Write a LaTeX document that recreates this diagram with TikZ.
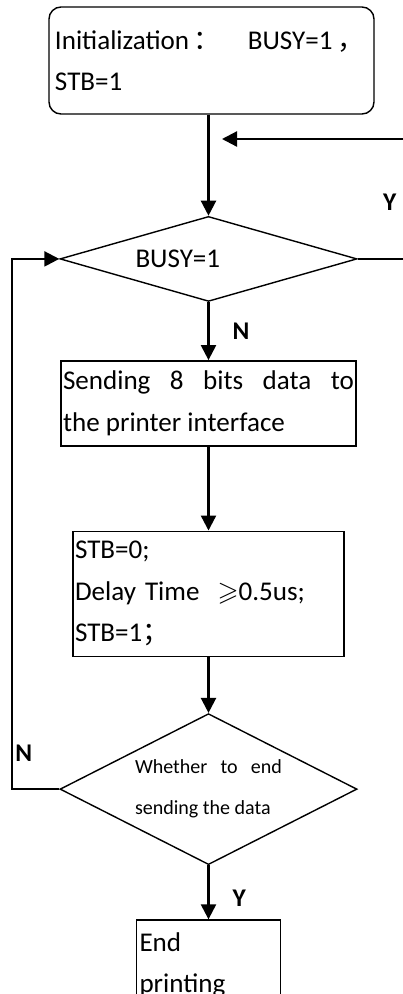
\documentclass[tikz,border=0pt]{standalone}
\usepackage{amsmath,amssymb}
\usepackage{fontspec}
\setmainfont{Carlito}
\newfontfamily\cjk{Noto Sans CJK SC}
\usepackage{tikz}
\usetikzlibrary{positioning, arrows.meta, shapes.geometric}

\begin{document}
\begin{tikzpicture}[
  box/.style={draw, line width=0.8pt, inner xsep=0.04cm, inner ysep=0pt, align=left, font=\fontsize{15.4}{23.6}\selectfont},
  initbox/.style={box, rounded corners=0.24cm, minimum width=6.5cm, minimum height=2.14cm, text width=6.26cm, inner xsep=0.12cm},
  decide/.style={diamond, draw, line width=0.8pt, inner sep=0pt, align=left},
  arrow/.style={-{Triangle[length=0.3cm, width=0.3cm]}, line width=1.3pt},
  lab/.style={font=\fontsize{14.5}{16}\selectfont\bfseries, inner sep=0pt}
]
\useasboundingbox (0,0) rectangle (8.06,-19.88);

% Start
\node[initbox] (init) at (4.23,-1.21) {Initialization\,{\cjk ：}\quad BUSY=1\,{\cjk ，}\\STB=1};

% Printer busy?
\node[decide, aspect=3.5, minimum width=5.94cm, minimum height=1.7cm, text width=2.92cm,
  font=\fontsize{15.4}{23.6}\selectfont, below=2.02cm of init, xshift=-0.06cm] (busy) {BUSY=1};

% Send and strobe
\node[box, minimum width=5.9cm, minimum height=1.7cm, text width=5.82cm, align=justify, below=1.16cm of busy] (send) {Sending 8 bits data to\linebreak the printer interface};
\node[box, minimum width=5.42cm, minimum height=2.5cm, text width=5.34cm, below=1.68cm of send] (strobe) {STB=0;\\Delay Time\ \ $\geqslant$0.5us;\\STB=1{\cjk ；}};

% Finished?
\node[decide, aspect=1.97, minimum width=5.94cm, minimum height=3.02cm, text width=2.94cm, align=justify,
  font=\fontsize{11.4}{23.3}\selectfont, below=1.12cm of strobe] (check) {Whether to end\linebreak sending the data};

% End
\node[box, minimum width=2.88cm, minimum height=1.8cm, text width=2.76cm, below=1.08cm of check] (stop) {End\\printing};

% Loop coordinates
\coordinate (rside) at (8.14,0);
\coordinate (ret) at (4.44,-2.78);
\coordinate (lside) at (0.24,0);
\coordinate (lturn) at (check.west -| lside);

% Arrows
\draw[arrow] (init.south -| busy.north) -- (busy.north);
\draw[arrow] (busy) -- node[lab, right=0.46cm] (nbusy) {N} (send);
\draw[arrow] (send) -- (strobe);
\draw[arrow] (strobe) -- (check);
\draw[arrow] (check) -- node[lab, right=0.46cm, yshift=-0.12cm] (ycheck) {Y} (stop);
\draw[arrow] (busy.east) -- (busy.east -| rside) |- (ret);
\node[lab, above right=0.96cm and 0.5cm of busy.east] (ybusy) {Y};
\draw[arrow] (check.west) -- (lturn) |- (busy.west);
\node[lab, above right=0.54cm and 0.06cm of lturn] (ncheck) {N};
\end{tikzpicture}
\end{document}
